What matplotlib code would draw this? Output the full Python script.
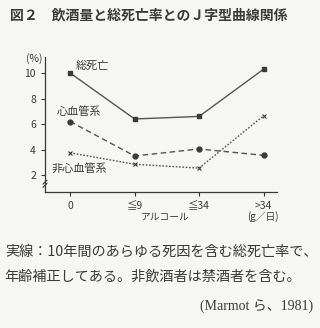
import matplotlib.pyplot as plt

plt.rcParams['font.family'] = ['Noto Sans CJK JP', 'DejaVu Sans']

# values (%)
categories = ["0", "≦9", "≦34", ">34"]
total = [10.0, 6.4, 6.6, 10.3]
cardio = [6.2, 3.5, 4.05, 3.55]
non_cardio = [3.75, 2.85, 2.55, 6.65]
y_ticks = [2, 4, 6, 8, 10]

ink = "#3a3a3a"
bg = "#f6f6f3"

fig = plt.figure(figsize=(3.2, 3.28), dpi=100, facecolor=bg)
ax = fig.add_axes([0.1406, 0.4155, 0.7254, 0.4105], facecolor=bg)

xs = range(len(categories))
ax.plot(xs, total, color="#555555", lw=1.0, ls="-", marker="s", ms=3.5, mfc=ink, mec=ink)
ax.plot(xs, cardio, color="#555555", lw=1.0, ls=(0, (4, 2.5)), marker="o", ms=3.5, mfc=ink, mec=ink)
ax.plot(xs, non_cardio, color="#555555", lw=1.0, ls=(0, (1.2, 1.2)), marker="x", ms=3.5, mec=ink, mew=0.8)

ax.set_xlim(-0.39, 3.21)
ax.set_ylim(0.7, 11.25)
ax.set_xticks(list(xs))
ax.set_xticklabels(categories)
ax.set_yticks(y_ticks)
ax.tick_params(colors=ink, labelsize=7.5, length=3, width=0.8, direction="out")
for side in ["top", "right"]:
    ax.spines[side].set_visible(False)
for side in ["left", "bottom"]:
    ax.spines[side].set_color(ink)
    ax.spines[side].set_linewidth(0.9)

# axis break marks on y axis
ax.plot([-0.42, -0.36], [1.05, 1.35], color=ink, lw=0.8, clip_on=False)
ax.plot([-0.42, -0.36], [1.3, 1.6], color=ink, lw=0.8, clip_on=False)

ax.text(-0.55, 11.1, "(%)", fontsize=7.5, color=ink, ha="center", va="center")
ax.text(0.34, 10.6, "総死亡", fontsize=8, color=ink, ha="center", va="center")
ax.text(0.14, 7.0, "心血管系", fontsize=8, color=ink, ha="center", va="center")
ax.text(0.14, 2.55, "非心血管系", fontsize=8, color=ink, ha="center", va="center")

fig.text(0.515, 1 - 217 / 328, "アルコール", fontsize=7, color=ink, ha="center", va="center")
fig.text(0.82, 1 - 217 / 328, "(g／日)", fontsize=7, color=ink, ha="center", va="center")

fig.text(0.03, 1 - 15 / 328, "図２　飲酒量と総死亡率とのＪ字型曲線関係", fontsize=10,
         color=ink, ha="left", va="center", fontweight="bold")
fig.text(0.015, 1 - 252 / 328, "実線：10年間のあらゆる死因を含む総死亡率で、", fontsize=10.2,
         color=ink, ha="left", va="center")
fig.text(0.015, 1 - 276 / 328, "年齢補正してある。非飲酒者は禁酒者を含む。", fontsize=10.2,
         color=ink, ha="left", va="center")
fig.text(0.98, 1 - 306 / 328, "(Marmot ら、1981)", fontsize=10, color=ink, ha="right", va="center",
         family=["Liberation Serif", "Noto Sans CJK JP"])

fig.savefig("out.png", dpi=100, facecolor=bg)
